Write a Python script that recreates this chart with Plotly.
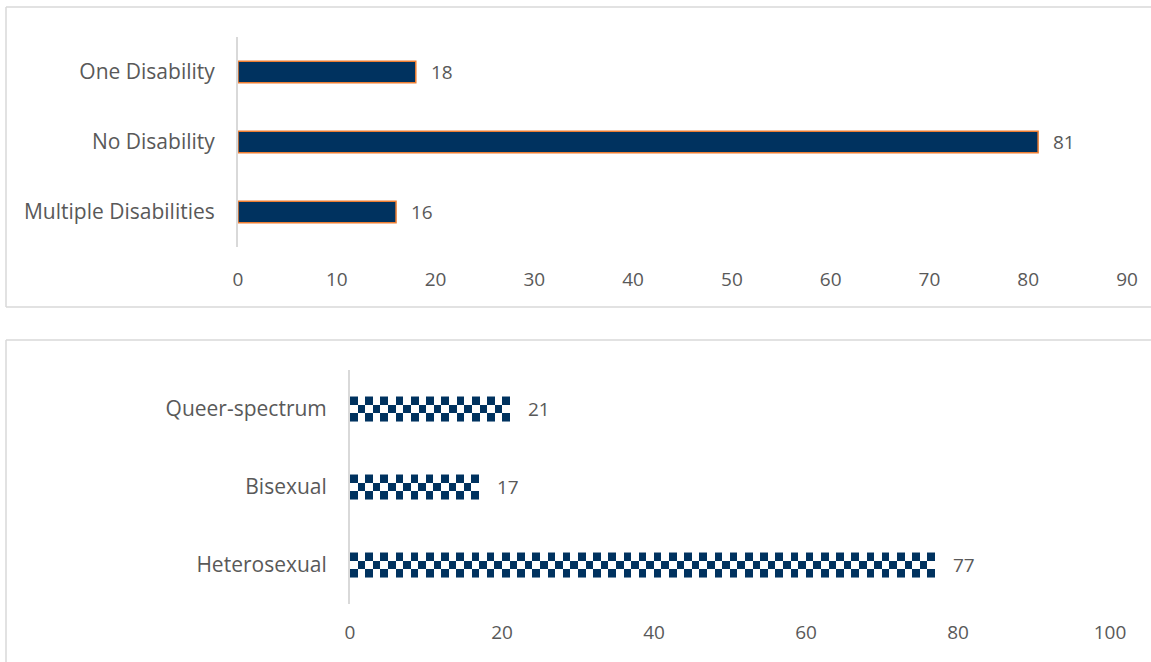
import plotly.graph_objects as go

W, H = 1151, 662

# ---- data ----
disability_categories = ["Multiple Disabilities", "No Disability", "One Disability"]
disability_values = [16, 81, 18]
disability_ticks = [0, 10, 20, 30, 40, 50, 60, 70, 80, 90]

orientation_categories = ["Heterosexual", "Bisexual", "Queer-spectrum"]
orientation_values = [77, 17, 21]
orientation_ticks = [0, 20, 40, 60, 80, 100]

NAVY = "#00325f"
ORANGE = "#ED7D31"
GREY_TEXT = "#595959"
GREY_LINE = "#d9d9d9"
FONT = "Open Sans"
FS_NUM = 19
FS_CAT = 21

def px_x(p):
    return p / W

def px_y(p):
    return 1 - p / H

fig = go.Figure()

# top chart: solid bars
fig.add_trace(go.Bar(
    x=disability_values,
    y=list(range(len(disability_categories))),
    orientation="h",
    width=0.31,
    marker=dict(color=NAVY, line=dict(color=ORANGE, width=1.5)),
    xaxis="x", yaxis="y",
    showlegend=False, hoverinfo="skip",
))

# bottom chart: checkerboard bars built as heatmaps from the values
bw = 0.32
rows = 3
for ci, v in enumerate(orientation_values):
    xs = [i + 0.5 for i in range(int(v))]
    ys = [ci + bw / 2 - bw / rows * (r + 0.5) for r in range(rows)]  # top row first
    z = [[1 if (i + r) % 2 == 0 else 0 for i in range(int(v))] for r in range(rows)]
    fig.add_trace(go.Heatmap(
        x=xs, y=ys, z=z,
        colorscale=[[0, "white"], [1, NAVY]], zmin=0, zmax=1,
        showscale=False, hoverinfo="skip",
        xaxis="x2", yaxis="y2",
    ))

num_font = dict(family=FONT, size=FS_NUM, color=GREY_TEXT)
cat_font = dict(family=FONT, size=FS_CAT, color=GREY_TEXT)

annotations = []
for i, v in enumerate(disability_values):
    annotations.append(dict(x=v, y=i, xref="x", yref="y", text=str(v), showarrow=False,
                            xanchor="left", xshift=13, font=num_font))
for i, v in enumerate(orientation_values):
    annotations.append(dict(x=v, y=i, xref="x2", yref="y2", text=str(v), showarrow=False,
                            xanchor="left", xshift=16, font=num_font))

border = dict(color=GREY_LINE, width=1.5)
def pline(x0, y0, x1, y1):
    return dict(type="line", xref="paper", yref="paper", x0=x0, y0=y0, x1=x1, y1=y1,
                line=border, layer="below")

shapes = [
    # top panel frame (top, left, bottom)
    pline(px_x(6), px_y(7), 1, px_y(7)),
    pline(px_x(6), px_y(7), px_x(6), px_y(307)),
    pline(px_x(6), px_y(307), 1, px_y(307)),
    # bottom panel frame (top, left)
    pline(px_x(6), px_y(340), 1, px_y(340)),
    pline(px_x(6), px_y(340), px_x(6), 0),
]

common_axis = dict(showgrid=False, zeroline=False, automargin=False)

fig.update_layout(
    width=W, height=H, autosize=False,
    margin=dict(l=0, r=0, t=0, b=0, pad=0),
    paper_bgcolor="white", plot_bgcolor="rgba(0,0,0,0)",
    font=num_font,
    xaxis=dict(domain=[px_x(238), px_x(1127)], range=[0, 90], tickvals=disability_ticks,
               showline=False, tickfont=num_font, ticklabelstandoff=19, anchor="y", **common_axis),
    yaxis=dict(domain=[px_y(247), px_y(37)], range=[-0.5, 2.5],
               tickvals=list(range(len(disability_categories))), ticktext=disability_categories,
               showline=True, linecolor=GREY_LINE, linewidth=2,
               tickfont=cat_font, ticklabelstandoff=17, anchor="x", **common_axis),
    xaxis2=dict(domain=[px_x(350), px_x(1110)], range=[0, 100], tickvals=orientation_ticks,
                showline=False, tickfont=num_font, ticklabelstandoff=15, anchor="y2", **common_axis),
    yaxis2=dict(domain=[px_y(604), px_y(370)], range=[-0.5, 2.5],
                tickvals=list(range(len(orientation_categories))), ticktext=orientation_categories,
                showline=True, linecolor=GREY_LINE, linewidth=2,
                tickfont=cat_font, ticklabelstandoff=17, anchor="x2", **common_axis),
    annotations=annotations,
    shapes=shapes,
)

fig.write_html("out.html", config={"displayModeBar": False, "responsive": False},
               post_script="document.body.style.margin='0px';document.body.style.overflow='hidden';")
